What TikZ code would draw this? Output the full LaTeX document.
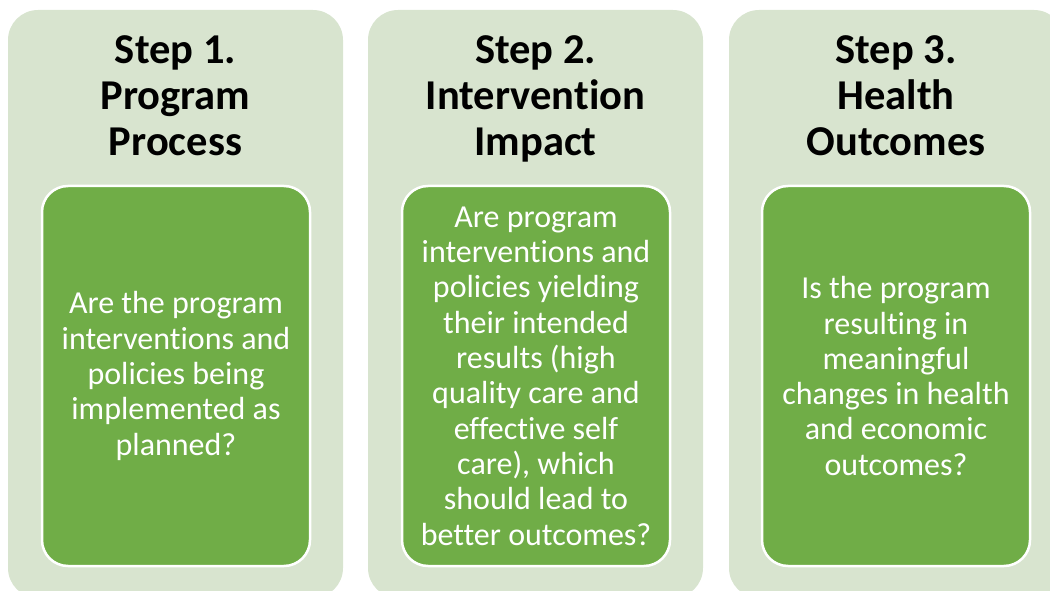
\documentclass[tikz,border=0pt]{standalone}
\usepackage{fontspec}
\setmainfont[Ligatures=NoCommon]{Carlito}
\definecolor{PanelGreen}{RGB}{216, 228, 207}
\definecolor{BoxGreen}{RGB}{112, 173, 71}
\usetikzlibrary{positioning}

\begin{document}
\begin{tikzpicture}[x=1pt, y=-1pt,
    panel/.style={rectangle, rounded corners=30pt, fill=PanelGreen, draw=none,
        minimum width=335pt, minimum height=588pt, inner sep=0pt},
    heading/.style={anchor=north, inner sep=0pt, align=center,
        font=\fontsize{42.5}{46}\selectfont\bfseries},
    question/.style={rectangle, rounded corners=26pt, fill=BoxGreen, draw=white,
        line width=2.5pt, minimum width=268pt, minimum height=380pt, inner sep=2pt,
        align=center, text=white, font=\fontsize{32}{35.3}\selectfont}]
        \useasboundingbox (0,0) rectangle (1050,591);
        \clip (0,0) rectangle (1050,591);

        % Step 1
        \node[panel] (step1) at (175.5,304) {};
        \node[heading] (head1) at (175.5,35) {Step 1.\\Program\\Process};
        \node[question] (box1) at (176,376) {Are the program\\interventions and\\policies being\\implemented as\\planned?};

        % Step 2
        \node[panel] (step2) at (535.5,304) {};
        \node[heading] (head2) at (535.5,35) {Step 2.\\Intervention\\Impact};
        \node[question] (box2) at (536,376) {Are program\\interventions and\\policies yielding\\their intended\\results (high\\quality care and\\effective self\\care), which\\should lead to\\better outcomes?};

        % Step 3
        \node[panel] (step3) at (896.5,304) {};
        \node[heading] (head3) at (896,35) {Step 3.\\Health\\Outcomes};
        \node[question] (box3) at (896,376) {Is the program\\resulting in\\meaningful\\changes in health\\and economic\\outcomes?};
    \end{tikzpicture}
\end{document}
